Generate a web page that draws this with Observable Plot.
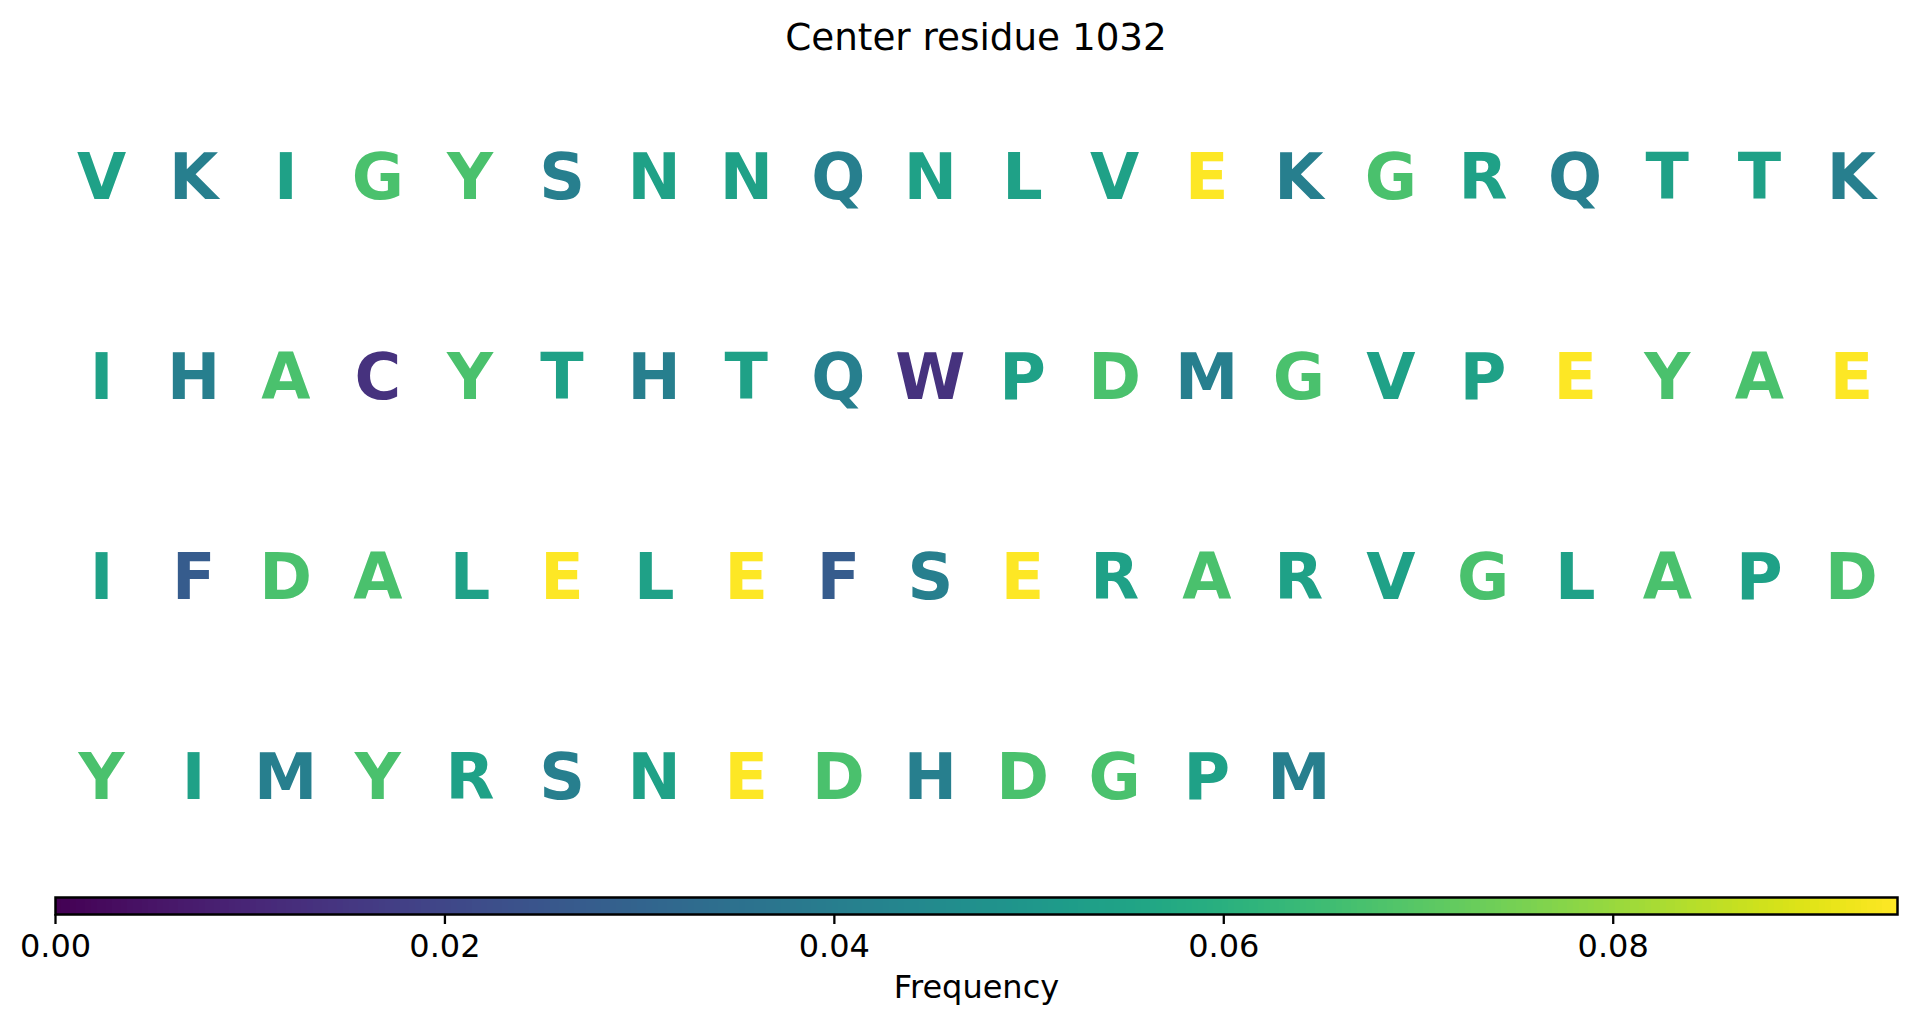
<!DOCTYPE html>
<html>
<head>
<meta charset="utf-8">
<script src="https://cdn.jsdelivr.net/npm/d3@7"></script>
<script src="https://cdn.jsdelivr.net/npm/@observablehq/plot@0.6"></script>
<style>
html, body { margin: 0; padding: 0; background: #fff; }
#wrap { position: relative; width: 1917px; height: 1025px; overflow: hidden; font-family: "DejaVu Sans"; background: #fff; }
#title { position: absolute; left: 55px; width: 1842px; top: 18.5px; text-align: center; font-size: 37.3px; line-height: 1; color: #000; font-family: "DejaVu Sans"; }
svg { display: block; }
</style>
</head>
<body>
<div id="wrap">
  <div id="main"></div>
  <div id="cbar"></div>
  <div id="title"></div>
</div>
<script>
// ---- data ----
const chartTitle = "Center residue 1032";
const colorbarLabel = "Frequency";
const residues = [
  "V","K","I","G","Y","S","N","N","Q","N","L","V","E","K","G","R","Q","T","T","K",
  "I","H","A","C","Y","T","H","T","Q","W","P","D","M","G","V","P","E","Y","A","E",
  "I","F","D","A","L","E","L","E","F","S","E","R","A","R","V","G","L","A","P","D",
  "Y","I","M","Y","R","S","N","E","D","H","D","G","P","M"
];
const aminoAcids  = ["A","C","D","E","F","G","H","I","K","L","M","N","P","Q","R","S","T","V","W","Y"];
const frequencies = [0.0676,0.0135,0.0676,0.0946,0.0270,0.0676,0.0405,0.0541,0.0405,0.0541,0.0405,0.0541,0.0541,0.0405,0.0541,0.0405,0.0541,0.0541,0.0135,0.0676];
const colorbarTicks = [0, 0.02, 0.04, 0.06, 0.08];
const perRow = 20;

// ---- build ----
document.getElementById("title").textContent = chartTitle;
const freqOf = new Map(aminoAcids.map((a, i) => [a, frequencies[i]]));
const nRows = Math.ceil(residues.length / perRow);
const cells = residues.map((r, i) => ({residue: r, col: i % perRow, row: Math.floor(i / perRow), freq: freqOf.get(r)}));
const maxF = d3.max(frequencies);
const colorScale = {type: "linear", scheme: "viridis", domain: [0, maxF]};

const main = Plot.plot({
  width: 1917, height: 880,
  marginLeft: 55, marginRight: 20, marginTop: 78, marginBottom: 2,
  x: {domain: [-0.5, perRow - 0.5], axis: null},
  y: {domain: [-0.5, nRows - 0.5], reverse: true, axis: null},
  color: colorScale,
  style: {fontFamily: "DejaVu Sans", background: "#fff"},
  marks: [
    Plot.text(cells, {
      x: "col", y: "row", text: "residue", fill: "freq",
      fontSize: 63.6, fontWeight: "bold", fontFamily: "DejaVu Sans",
      textAnchor: "middle", lineAnchor: "middle"
    })
  ]
});
document.getElementById("main").appendChild(main);

// colour bar gradient segments across the colour domain
const nSteps = 614;
const steps = d3.range(nSteps).map(i => ({x1: maxF * i / nSteps, x2: maxF * (i + 1) / nSteps}));

const cbar = Plot.plot({
  width: 1917, height: 145,
  marginLeft: 55, marginRight: 20, marginTop: 17, marginBottom: 111,
  x: {domain: [0, maxF]},
  color: colorScale,
  style: {fontFamily: "DejaVu Sans", fontSize: "32px", color: "#000", background: "#fff"},
  marks: [
    Plot.rect(steps, {x1: "x1", x2: "x2", fill: d => (d.x1 + d.x2) / 2, shapeRendering: "crispEdges", insetRight: -0.6}),
    Plot.frame({stroke: "#000", strokeWidth: 2.5}),
    Plot.axisX({ticks: colorbarTicks, tickFormat: d3.format(".2f"), tickSize: 10, tickPadding: 10, strokeWidth: 2.3, fontSize: 32, label: null}),
    Plot.text([colorbarLabel], {frameAnchor: "bottom", dy: 83, text: d => d, fontSize: 32, lineAnchor: "bottom", fill: "#000"})
  ]
});
document.getElementById("cbar").appendChild(cbar);
</script>
</body>
</html>
